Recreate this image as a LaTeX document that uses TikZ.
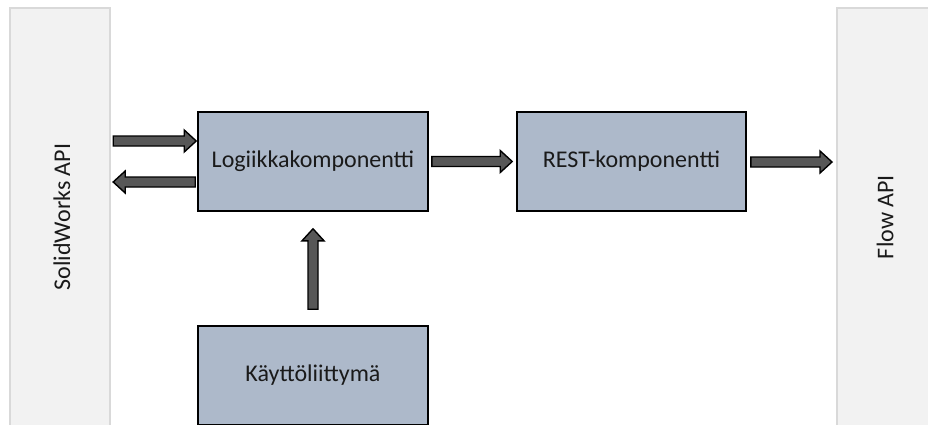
\documentclass[tikz,border=0pt]{standalone}
\usepackage{fontspec}
\setmainfont{Carlito}
\usetikzlibrary{calc}
\definecolor{boxfill}{HTML}{ADB9CA}
\definecolor{arrowfill}{HTML}{575757}
\definecolor{panelfill}{HTML}{F2F2F2}
\definecolor{paneldraw}{HTML}{D9D9D9}
\definecolor{txt}{HTML}{1A1A1A}
\tikzset{
  compbox/.style={draw=black, line width=1.6pt, fill=boxfill, minimum width=230pt, minimum height=99pt, inner sep=0pt, text=txt, font=\fontsize{24}{28}\selectfont},
  panelbox/.style={draw=paneldraw, line width=1.5pt, fill=panelfill, anchor=north west, inner sep=0pt},
  panellabel/.style={rotate=90, text=txt, font=\fontsize{24}{28}\selectfont, inner sep=0pt},
  barrow/.style={draw=black, fill=arrowfill, line width=1.4pt, line join=miter}
}
\newcommand\blockarrow[2]{%
  \path #1 coordinate (ba-s) #2 coordinate (ba-t);
  \coordinate (ba-h) at ($(ba-t)!12pt!(ba-s)$);
  \draw[barrow] ($(ba-s)!5pt!90:(ba-t)$) -- ($(ba-h)!5pt!-90:(ba-s)$) -- ($(ba-h)!11pt!-90:(ba-s)$) -- (ba-t) -- ($(ba-h)!11pt!90:(ba-s)$) -- ($(ba-h)!5pt!90:(ba-s)$) -- ($(ba-s)!5pt!-90:(ba-t)$) -- cycle;%
}
\begin{document}
\begin{tikzpicture}[x=1pt,y=-1pt]
\useasboundingbox (0,0) rectangle (928,424);
\clip (0,0) rectangle (928,424);
\fill[white] (0,0) rectangle (928,424);
% side panels
\node[panelbox, minimum width=100pt, minimum height=440pt] (solid) at (9,7) {};
\node[panellabel] (solidlbl) at (62,217) {SolidWorks API};
\node[panelbox, minimum width=110pt, minimum height=440pt] (flow) at (836,7) {};
\node[panellabel] (flowlbl) at (885,217) {Flow API};
% components
\node[compbox] (logic) at (313,161.5) {Logiikkakomponentti};
\node[compbox, minimum width=229pt] (rest) at (631.5,161.5) {REST-komponentti};
\node[compbox] (ui) at (313,375.5) {Käyttöliittymä};
% arrows
\blockarrow{($(logic.west)+(-84,-20.5)$)}{($(logic.west)+(-1,-20.5)$)}
\blockarrow{($(logic.west)+(-2,20.5)$)}{($(logic.west)+(-84,20.5)$)}
\blockarrow{($(logic.east)+(3,0)$)}{($(rest.west)+(-4,0)$)}
\blockarrow{($(rest.east)+(4,0.5)$)}{($(flow.west |- rest.east)+(-4,0.5)$)}
\blockarrow{($(ui.north)+(0,-16)$)}{($(logic.south)+(0,17)$)}
\end{tikzpicture}
\end{document}
